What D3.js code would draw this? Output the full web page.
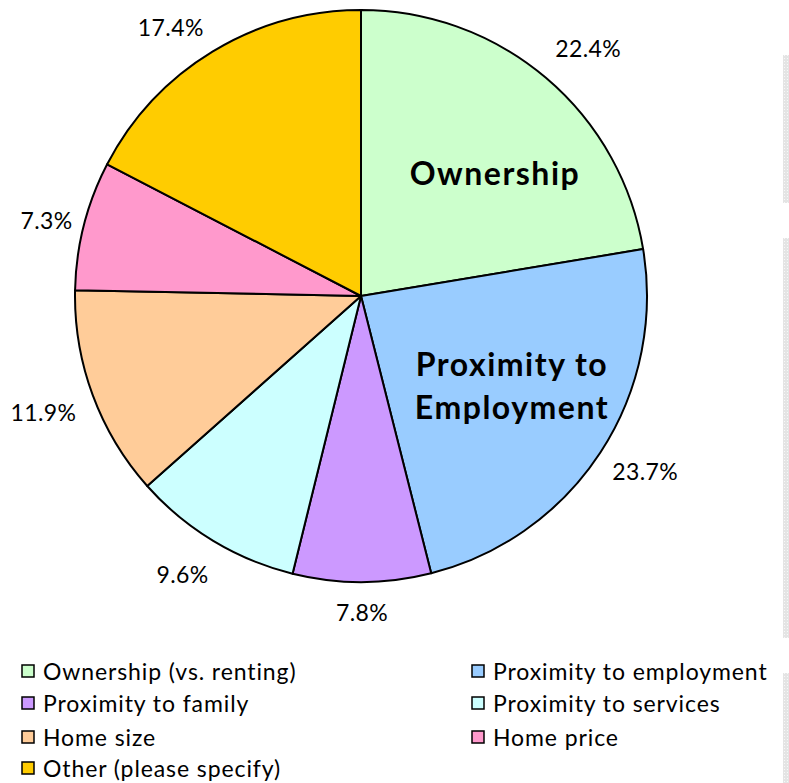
<!DOCTYPE html>
<html>
<head>
<meta charset="utf-8">
<script src="https://cdn.jsdelivr.net/npm/d3@7"></script>
<style>
  html, body { margin: 0; padding: 0; background: #ffffff; }
  svg { display: block; }
  text { font-family: Lato, "Open Sans", "Noto Sans", sans-serif; fill: #000; }
</style>
</head>
<body>
<svg id="chart" width="789" height="783"></svg>
<script>
// Reasons given for choosing a home (share of responses, %)
const categories = [
  "Ownership (vs. renting)",
  "Proximity to employment",
  "Proximity to family",
  "Proximity to services",
  "Home size",
  "Home price",
  "Other (please specify)"
];
const shares = [22.4, 23.7, 7.8, 9.6, 11.9, 7.3, 17.4];
const sliceColors = ["#CCFFCC", "#99CCFF", "#CC99FF", "#CCFFFF", "#FFCC99", "#FF99CC", "#FFCC00"];

// Bold callouts written inside the two largest slices
const callouts = [
  { slice: 0, lines: ["Ownership"] },
  { slice: 1, lines: ["Proximity to", "Employment"] }
];

const svg = d3.select("#chart");

// Pie geometry
const cx = 361, cy = 296, R = 286;

const data = categories.map((c, i) => ({ name: c, value: shares[i], color: sliceColors[i] }));

const pie = d3.pie().sort(null).value(d => d.value);
const arcs = pie(data);
const arc = d3.arc().innerRadius(0).outerRadius(R);

const g = svg.append("g").attr("transform", `translate(${cx},${cy})`);

g.selectAll("path.slice")
  .data(arcs)
  .join("path")
  .attr("class", "slice")
  .attr("d", arc)
  .attr("fill", d => d.data.color)
  .attr("stroke", "#000")
  .attr("stroke-width", 2)
  .attr("stroke-linejoin", "round");

// Percentage labels just outside the rim, pushed out by half the label box,
// with a small best-fit nudge per label
const labelNudge = [[12, 5], [2, -10], [0, 1], [-10, -2], [0, -2], [7, 5], [-19, 12]];
const fmt = d => d.toFixed(1) + "%";
const labels = g.selectAll("text.pct")
  .data(arcs)
  .join("text")
  .attr("class", "pct")
  .attr("text-anchor", "middle")
  .attr("dominant-baseline", "central")
  .style("font-size", "23px")
  .style("letter-spacing", "0.4px")
  .text(d => fmt(d.data.value));

labels.each(function(d, i) {
  const a = (d.startAngle + d.endAngle) / 2;
  const bb = this.getBBox();
  const s = Math.sin(a), c = Math.cos(a);
  const dist = R + 18 + Math.abs(s) * bb.width / 2 + Math.abs(c) * 10;
  d3.select(this)
    .attr("x", s * dist + labelNudge[i][0])
    .attr("y", -c * dist + 1 + labelNudge[i][1]);
});

// Callout text inside slices
const calloutPos = [ { dx: 134, dy: -124 }, { dx: 151, dy: 89 } ];
callouts.forEach((co, k) => {
  const p = calloutPos[k];
  const lineH = 43;
  const t = g.append("text")
    .attr("text-anchor", "middle")
    .style("font-size", "32px")
    .style("font-weight", "700")
    .style("letter-spacing", "1.5px");
  co.lines.forEach((ln, j) => {
    t.append("tspan")
      .attr("x", p.dx)
      .attr("y", p.dy + (j - (co.lines.length - 1) / 2) * lineH)
      .attr("dominant-baseline", "central")
      .text(ln);
  });
});

// Legend: two columns, row-major order
const legend = svg.append("g").attr("class", "legend");
const colX = [21, 471];
const rowY = [671, 703, 737, 768];
data.forEach((d, i) => {
  const col = i % 2, row = Math.floor(i / 2);
  const item = legend.append("g").attr("transform", `translate(${colX[col]},${rowY[row]})`);
  item.append("rect")
    .attr("x", 1).attr("y", -6)
    .attr("width", 12).attr("height", 12)
    .attr("fill", d.color)
    .attr("stroke", "#000")
    .attr("stroke-width", 1.5);
  item.append("text")
    .attr("x", 22)
    .attr("y", 0)
    .attr("dominant-baseline", "central")
    .style("font-size", "23px")
    .style("letter-spacing", "0.9px")
    .text(d.name);
});

// Faint dotted guide strips along the right edge
const defs = svg.append("defs");
const pat = defs.append("pattern")
  .attr("id", "dots")
  .attr("width", 3).attr("height", 3)
  .attr("patternUnits", "userSpaceOnUse");
pat.append("rect").attr("width", 3).attr("height", 3).attr("fill", "#e4e4e4");
pat.append("rect").attr("x", 1).attr("y", 1).attr("width", 1).attr("height", 1).attr("fill", "#f8f8f8");

const strips = [[55, 203], [238, 638], [673, 783]];
svg.append("g").selectAll("rect")
  .data(strips)
  .join("rect")
  .attr("x", 783).attr("width", 6)
  .attr("y", d => d[0])
  .attr("height", d => d[1] - d[0])
  .attr("fill", "url(#dots)");
</script>
</body>
</html>
